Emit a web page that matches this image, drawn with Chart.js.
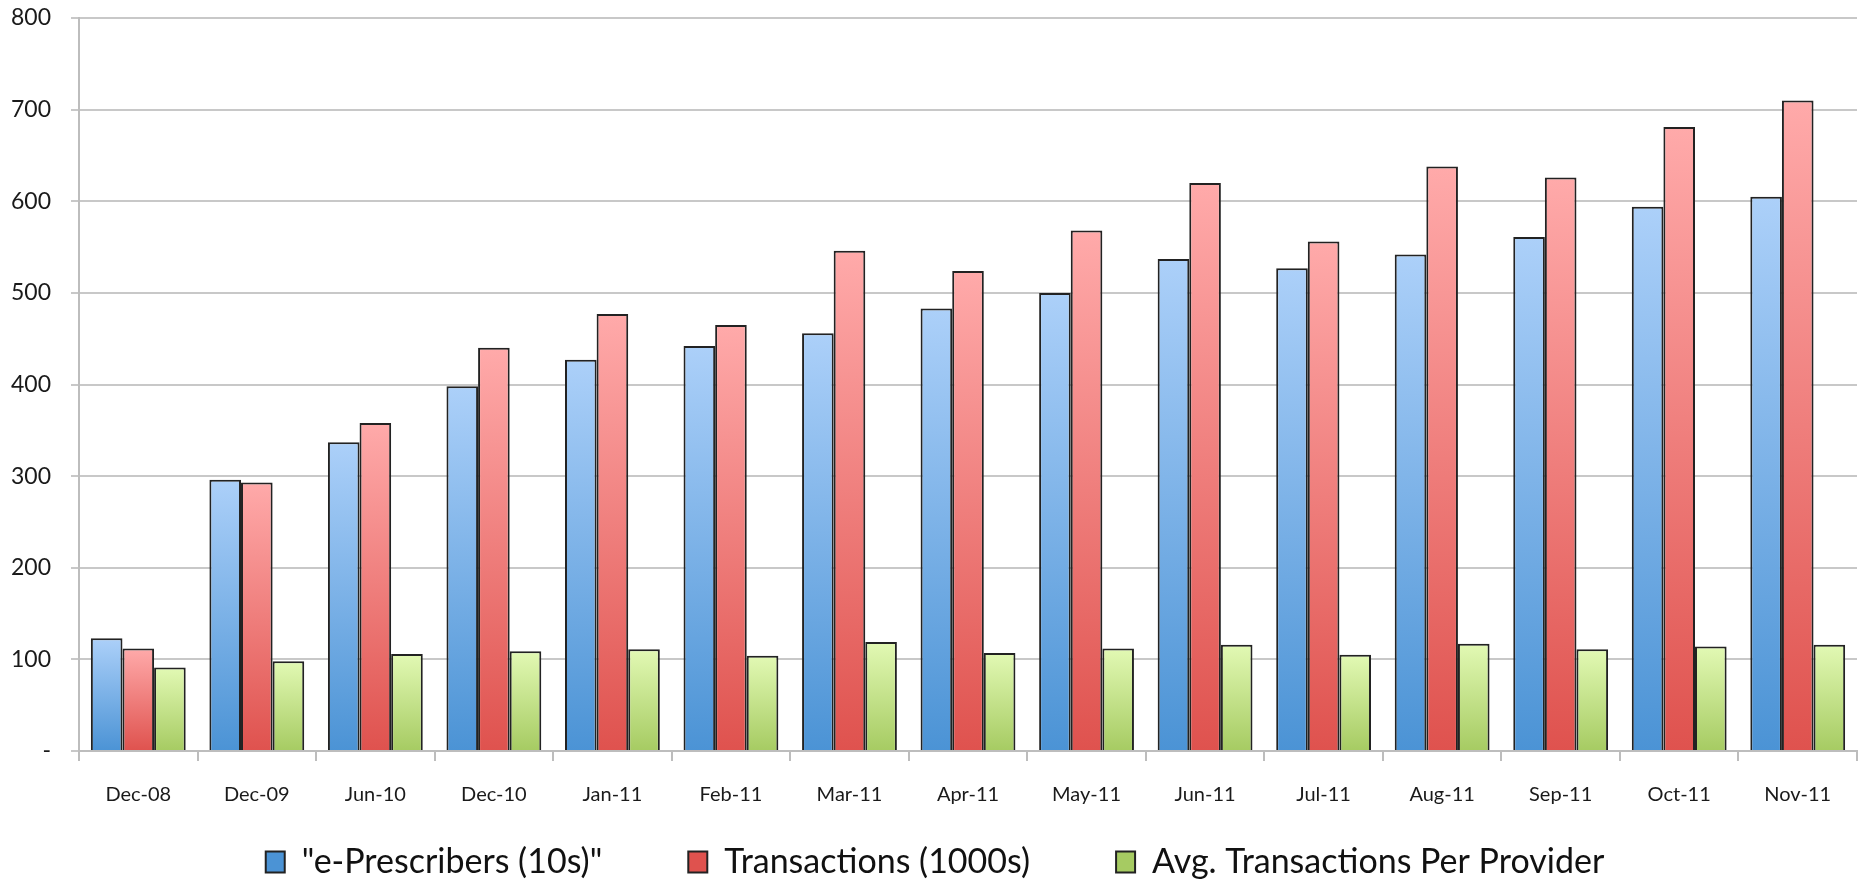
<!DOCTYPE html>
<html>
<head>
<meta charset="utf-8">
<script src="https://cdn.jsdelivr.net/npm/chart.js@4"></script>
<style>
    html, body { margin: 0; padding: 0; background: #fff; }
    #wrap { width: 1864px; height: 883px; }
</style>
</head>
<body>
<div id="wrap"><canvas id="rxChart" width="1864" height="883"></canvas></div>
<script>
// Data
const months = ['Dec-08', 'Dec-09', 'Jun-10', 'Dec-10', 'Jan-11', 'Feb-11', 'Mar-11', 'Apr-11',
                'May-11', 'Jun-11', 'Jul-11', 'Aug-11', 'Sep-11', 'Oct-11', 'Nov-11'];
const prescribers = [123, 296, 337, 398, 427, 442, 456, 483, 500, 537, 527, 542, 561, 594, 605];
const transactions = [112, 293, 358, 440, 477, 465, 546, 524, 568, 620, 556, 638, 626, 681, 710];
const avgPerProvider = [91, 98, 106, 109, 111, 104, 119, 107, 112, 116, 105, 117, 111, 114, 116];
const yTickLabels = ['-', '100', '200', '300', '400', '500', '600', '700', '800'];

// top colour, mid colour, bottom colour
const blueStops = ['#acd0f9', '#7fb3ea', '#4b93d5'];
const redStops = ['#ffaaaa', '#f48484', '#df524e'];
const greenStops = ['#e2f9b4', '#c9e792', '#a6cb62'];

// each bar gets its own vertical gradient, from its top down to zero
function barGradient(stops) {
    return function(ctx) {
        const chart = ctx.chart;
        if (!chart.chartArea || ctx.type !== 'data' || !ctx.parsed) return stops[1];
        const y = chart.scales.y;
        const top = y.getPixelForValue(ctx.parsed.y);
        const bottom = y.getPixelForValue(0);
        const g = chart.ctx.createLinearGradient(0, top, 0, bottom);
        g.addColorStop(0, stops[0]);
        g.addColorStop(1, stops[2]);
        return g;
    };
}

// legend padding is wide (for item spacing), which also pushes the row down.
// raise only the top edge so the row still sits inside the legend's clip box
const legendShift = {
    id: 'legendShift',
    afterLayout(chart) {
        const legend = chart.legend;
        if (legend) {
            legend.top -= 70;
            legend.left += 11;
            legend.right += 11;
        }
    }
};

const ctx = document.getElementById('rxChart').getContext('2d');
new Chart(ctx, {
    type: 'bar',
    data: {
        labels: months,
        datasets: [{
            label: '"e-Prescribers (10s)"',
            data: prescribers,
            backgroundColor: barGradient(blueStops),
            borderColor: '#222',
            borderWidth: 2
        }, {
            label: 'Transactions (1000s)',
            data: transactions,
            backgroundColor: barGradient(redStops),
            borderColor: '#222',
            borderWidth: 2
        }, {
            label: 'Avg. Transactions Per Provider',
            data: avgPerProvider,
            backgroundColor: barGradient(greenStops),
            borderColor: '#222',
            borderWidth: 2
        }]
    },
    options: {
        responsive: false,
        animation: false,
        devicePixelRatio: 1,
        layout: { padding: { top: 0, left: -9, right: 7, bottom: 0 } },
        datasets: {
            bar: { categoryPercentage: 0.8, barPercentage: 1.0 }
        },
        scales: {
            x: {
                grid: {
                    display: true,
                    offset: true,
                    drawOnChartArea: false,
                    tickLength: 10,
                    color: '#bdbdbd',
                    lineWidth: 2
                },
                border: { display: true, color: '#bdbdbd', width: 2 },
                ticks: {
                    color: '#1a1a1a',
                    padding: 22,
                    maxRotation: 0,
                    font: { family: 'Lato', size: 20 }
                }
            },
            y: {
                min: 0,
                max: 800,
                // tick padding would otherwise add to the space above the top gridline
                afterFit: function(scale) {
                    scale.paddingTop = 18;
                },
                grid: {
                    color: '#c8c8c8',
                    lineWidth: 2,
                    tickLength: 8
                },
                border: { display: true, color: '#bdbdbd', width: 2 },
                ticks: {
                    stepSize: 100,
                    color: '#1a1a1a',
                    padding: 20,
                    font: { family: 'Lato', size: 23 },
                    callback: function(value, index) {
                        return yTickLabels[index];
                    }
                }
            }
        },
        plugins: {
            legend: {
                position: 'bottom',
                maxHeight: 54,
                labels: {
                    color: '#111',
                    boxWidth: 19,
                    boxHeight: 21,
                    padding: 86,
                    font: { family: 'Lato', size: 34 }
                }
            },
            tooltip: { enabled: false }
        }
    },
    plugins: [legendShift]
});
</script>
</body>
</html>
